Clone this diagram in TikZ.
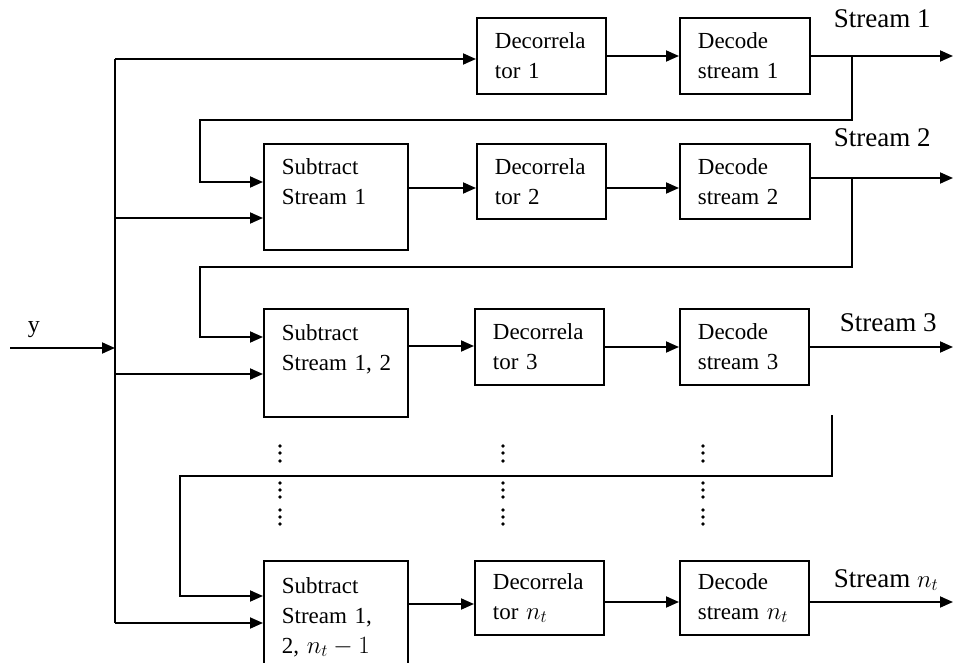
\documentclass[tikz,border=0pt]{standalone}
\usepackage{fontspec}
\setmainfont{Liberation Serif}
\usetikzlibrary{arrows.meta}
\begin{document}
\begin{tikzpicture}[x=1pt,y=-1pt,
  line width=1.8pt,
  arr/.style={-{Triangle[length=13pt,width=11pt]}},
  box/.style={draw, rectangle, anchor=north west, inner xsep=18pt, inner ysep=0pt,
    align=left, font=\fontsize{23}{30}\selectfont},
  decbox/.style={box, text width=93pt},
  subbox/.style={box, text width=108pt, minimum height=#1},
  lbl/.style={anchor=base west, inner sep=0pt, font=\fontsize{27}{30}\selectfont}]
\useasboundingbox (0,0) rectangle (954,663);
\clip (0,0) rectangle (954,663);

% processing blocks
\node[decbox, minimum height=76pt] (dec1) at (476,17) {Decorrela\\tor 1};
\node[decbox, text width=94pt, minimum height=76pt] (code1) at (679,17) {Decode\\stream 1};

\node[subbox=106pt] (sub1) at (263,143) {Subtract\\Stream 1\\\mbox{}};
\node[decbox, minimum height=75pt] (dec2) at (476,143) {Decorrela\\tor 2};
\node[decbox, text width=94pt, minimum height=75pt] (code2) at (679,143) {Decode\\stream 2};

\node[subbox=108pt] (sub2) at (263,308) {Subtract\\\mbox{Stream 1, 2}\\\mbox{}};
\node[decbox, minimum height=76pt] (dec3) at (474,308) {Decorrela\\tor 3};
\node[decbox, minimum height=76pt] (code3) at (679,308) {Decode\\stream 3};

\node[subbox=112pt] (subn) at (263,560) {Subtract\\Stream 1,\\\mbox{2, $n_t-1$}};
\node[decbox, minimum height=74pt] (decn) at (474,560) {Decorrela\\tor $n_t$};
\node[decbox, minimum height=74pt] (coden) at (679,560) {Decode\\stream $n_t$};

% output labels and input label
\node[lbl] (l1) at (833,28) {Stream 1};
\node[lbl] (l2) at (833,147) {Stream 2};
\node[lbl] (l3) at (839,331) {Stream 3};
\node[lbl] (ln) at (833,587) {Stream $n_t$};
\node[anchor=base west, inner sep=0pt, font=\fontsize{24}{28}\selectfont] (ylbl) at (27,333) {y};

% input bus
\coordinate (yin) at (10,348);
\coordinate (bt) at (115,59);
\coordinate (bb) at (115,623);
\coordinate (b1) at (115,218);
\coordinate (b2) at (115,374);
\draw (bt) -- (bb);
\draw[arr] (yin) -- (yin -| bt);
\draw[arr] (bt) -- (bt -| dec1.west);
\draw[arr] (b1) -- (b1 -| sub1.west);
\draw[arr] (b2) -- (b2 -| sub2.west);
\draw[arr] (bb) -- (bb -| subn.west);

% row 1
\coordinate (r1) at (0,56);
\draw[arr] (dec1.east |- r1) -- (code1.west |- r1);
\coordinate (o1) at (953,56);
\draw[arr] (code1.east |- r1) -- (o1);

% row 2
\coordinate (r2) at (0,188);
\coordinate (q2) at (0,178);
\draw[arr] (sub1.east |- r2) -- (dec2.west |- r2);
\draw[arr] (dec2.east |- r2) -- (code2.west |- r2);
\coordinate (o2) at (953,178);
\draw[arr] (code2.east |- q2) -- (o2);

% row 3
\coordinate (r3) at (0,346);
\coordinate (q3) at (0,347);
\draw[arr] (sub2.east |- r3) -- (dec3.west |- r3);
\draw[arr] (dec3.east |- q3) -- (code3.west |- q3);
\coordinate (o3) at (953,347);
\draw[arr] (code3.east |- q3) -- (o3);

% last row
\coordinate (rn) at (0,604);
\coordinate (qn) at (0,602);
\draw[arr] (subn.east |- rn) -- (decn.west |- rn);
\draw[arr] (decn.east |- qn) -- (coden.west |- qn);
\coordinate (on) at (953,602);
\draw[arr] (coden.east |- qn) -- (on);

% feedback of decoded streams
\coordinate (t1) at (852,56);
\coordinate (f1) at (200,120);
\coordinate (s1) at (0,182);
\draw[arr] (t1) |- (f1) |- (sub1.west |- s1);

\coordinate (t2) at (852,178);
\coordinate (f2) at (200,267);
\coordinate (s2) at (0,337);
\draw[arr] (t2) |- (f2) |- (sub2.west |- s2);

\coordinate (t3) at (832,415);
\coordinate (f3) at (180,476);
\coordinate (s3) at (0,596);
\draw[arr] (t3) |- (f3) |- (subn.west |- s3);

% continuation dots
\foreach \cx in {280,503,703}
  \foreach \cy in {446,453,461,483,490,497,510,517,524}
    \fill (\cx,\cy) circle (1.9pt);
\end{tikzpicture}
\end{document}
